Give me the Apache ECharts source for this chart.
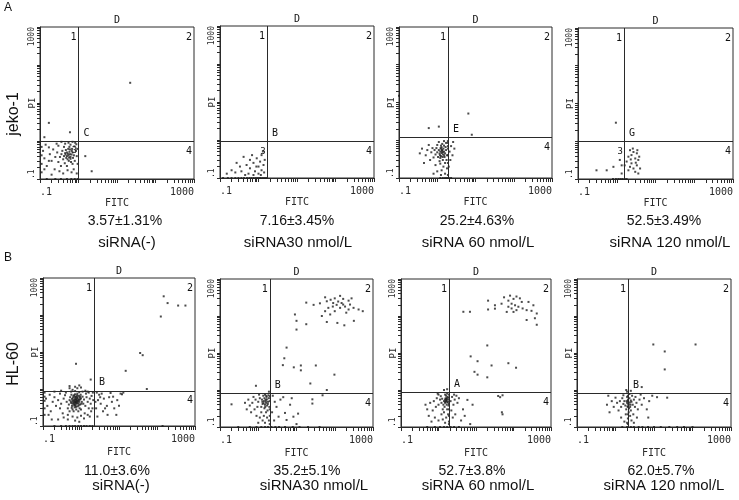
<!DOCTYPE html>
<html><head><meta charset="utf-8">
<script src="https://cdn.jsdelivr.net/npm/echarts@6/dist/echarts.min.js"></script>
<style>html,body{margin:0;padding:0;background:#fff}#c{width:739px;height:500px}</style>
</head><body><div id="c"></div>
<script>
// ---------- DATA ----------
const cellLines = ['jeko-1', 'HL-60'];
const rowLetters = ['A', 'B'];
const conditions = ['siRNA(-)', 'siRNA30 nmol/L', 'siRNA 60 nmol/L', 'siRNA 120 nmol/L'];
const percents = ['3.57±1.31%', '7.16±3.45%', '25.2±4.63%', '52.5±3.49%',
                  '11.0±3.6%', '35.2±5.1%', '52.7±3.8%', '62.0±5.7%'];
const gateX = [1.0, 1.66, 1.9, 1.55, 2.2, 2.0, 1.9, 2.1];   // FITC gate
const gateY = [1.0, 0.93, 1.2, 1.0, 0.89, 0.83, 0.85, 0.83]; // PI gate
const gateLetters = ['C', 'B', 'E', 'G', 'B', 'B', 'A', 'B'];
const showThree = [true, true, false, true, false, false, false, false];
const tickValues = [0.1, 1000];
const tickLabels = ['.1', '1000'];
const xName = 'FITC', yName = 'PI';

const jekoCtrl = [
[0.5,0.4],[0.55,0.42],[0.48,0.36],[0.6,0.45],[0.45,0.48],[0.52,0.33],[0.62,0.38],[0.58,0.52],[0.42,0.4],[0.66,0.44],
[0.5,0.5],[0.56,0.3],[0.4,0.33],[0.7,0.5],[0.47,0.58],[0.64,0.28],[0.36,0.45],[0.54,0.62],[0.72,0.36],[0.44,0.26],
[0.6,0.6],[0.33,0.38],[0.68,0.62],[0.38,0.55],[0.76,0.42],[0.3,0.28],[0.5,0.22],[0.8,0.3],[0.28,0.5],[0.58,0.7],
[0.42,0.7],[0.85,0.55],[0.25,0.38],[0.7,0.25],[0.35,0.22],[0.9,0.4],[0.22,0.6],[0.62,0.8],[0.3,0.75],[0.78,0.72],
[0.2,0.3],[0.45,0.85],[0.88,0.82],[0.18,0.45],[0.52,0.17],[0.75,0.18],[0.32,0.16],[0.15,0.22],[0.17,0.68],[0.93,0.62],
[0.24,0.18],[0.66,0.15],[0.4,0.14],[0.13,0.35],[0.95,0.25],[0.12,0.55],[0.27,0.85],[0.55,0.9],[0.82,0.9],[0.2,0.13],
[0.14,0.8],[0.9,0.14],[0.36,0.95],[0.7,0.95],[0.11,0.15],[0.11,0.25],[0.11,0.42],[0.11,0.7],[0.15,0.1],[0.25,0.1],
[0.35,0.1],[0.5,0.1],[0.65,0.1],[0.8,0.1],[0.95,0.1],[0.62,0.34],[0.53,0.46],[0.46,0.44],[0.57,0.37],[0.67,0.55],
[0.17,0.3],[0.13,0.18],[0.17,3.0],[0.6,1.7],[22,34],[1.5,0.4],[2.2,0.16],[0.13,1.26]
];
const jeko30 = [
[0.41,0.36],[0.6,0.3],[0.27,0.25],[0.9,0.33],[1.2,0.4],[0.33,0.2],[0.49,0.22],[0.74,0.25],[1.1,0.27],[0.2,0.16],
[0.36,0.15],[0.6,0.18],[1.0,0.2],[1.35,0.22],[0.15,0.13],[0.25,0.14],[0.55,0.13],[0.81,0.15],[1.2,0.16],[0.45,0.12],
[0.74,0.12],[1.0,0.13],[1.3,0.5],[1.45,0.3],[1.15,0.12],[0.88,0.2],[1.4,0.14],[0.68,0.4],
[0.12,0.1],[0.16,0.1],[0.2,0.1],[0.25,0.1],[0.3,0.1],[0.36,0.1],[0.42,0.1],[0.5,0.1],[0.58,0.1],[0.66,0.1],
[0.75,0.1],[0.85,0.1],[0.95,0.1],[1.05,0.1],[1.15,0.1],[1.3,0.1],[1.45,0.1],[1.6,0.1]
];
const jeko60 = [
[1.3,0.46],[1.2,0.5],[1.4,0.42],[1.35,0.55],[1.25,0.38],[1.5,0.5],[1.15,0.44],[1.45,0.6],[1.1,0.55],[1.6,0.45],
[1.3,0.65],[1.2,0.34],[1.55,0.36],[1.0,0.48],[1.7,0.55],[1.4,0.3],[0.95,0.62],[1.25,0.72],[1.8,0.4],[1.05,0.36],
[1.5,0.72],[0.9,0.42],[1.65,0.66],[1.15,0.28],[0.85,0.55],[1.75,0.3],[1.35,0.8],[0.8,0.35],[1.9,0.6],[1.0,0.75],
[1.2,0.24],[1.6,0.25],[0.7,0.48],[2.1,0.5],[0.75,0.62],[1.45,0.2],[0.65,0.3],[2.3,0.7],[1.1,0.9],[1.7,0.85],
[0.55,0.55],[2.5,0.4],[0.9,0.22],[1.3,0.16],[0.5,0.4],[2.2,0.3],[1.8,0.18],[0.6,0.75],[1.5,0.95],[2.8,0.6],
[0.45,0.25],[1.0,0.15],[2.0,0.2],[0.4,0.6],[1.25,0.12],[0.8,0.13],[1.6,0.13],[1.9,0.85],[2.6,0.9],[0.35,0.45],
[1.4,0.48],[1.28,0.58],[1.18,0.4],[1.52,0.4],[1.38,0.36],[1.22,0.62],[1.32,0.52],
[1.9,0.12],[1.9,0.25],[1.9,0.4],[1.9,0.7],[1.9,0.95],
[1.2,0.1],[1.4,0.1],[1.6,0.1],[1.8,0.1],[2.0,0.1],[2.3,0.1],
[0.6,2.1],[1.1,2.3],[6.5,5.1],[8,1.4],[0.1,15]
];
const jeko120 = [
[2.2,0.58],[2.7,0.52],[2.4,0.43],[3.3,0.48],[2.0,0.39],[3.0,0.35],[3.6,0.32],[1.8,0.29],[2.4,0.26],[3.3,0.23],
[2.2,0.21],[4.0,0.19],[2.0,0.17],[3.0,0.155],[3.6,0.14],[1.6,0.23],[2.7,0.19],[2.3,0.33],[3.1,0.27],[3.8,0.39],
[2.6,0.64],[3.4,0.58],[0.3,0.17],[0.82,0.21],[1.34,0.23],[0.95,3.1],[1.34,0.14],[1.2,0.32],[0.55,0.17],
[0.8,0.1],[0.95,0.1],[1.1,0.1],[1.25,0.1],[1.4,0.1],[1.6,0.1],[1.8,0.1]
];
const hlCtrl = [
[0.7,0.45],[0.75,0.5],[0.65,0.4],[0.8,0.42],[0.7,0.55],[0.6,0.48],[0.85,0.52],[0.72,0.36],[0.9,0.45],[0.62,0.58],
[0.78,0.62],[0.55,0.42],[0.95,0.38],[0.68,0.32],[0.82,0.34],[0.58,0.35],[1.0,0.55],[0.5,0.5],[0.88,0.65],[0.66,0.68],
[1.05,0.45],[0.52,0.6],[0.75,0.28],[0.92,0.3],[0.6,0.28],[1.1,0.62],[0.48,0.38],[0.7,0.72],[0.98,0.7],[0.56,0.7],
[1.15,0.4],[0.45,0.3],[0.85,0.25],[0.64,0.25],[1.2,0.52],[0.42,0.45],[0.8,0.75],[0.5,0.25],[1.0,0.28],[0.74,0.44],
[0.68,0.5],[0.8,0.48],[0.62,0.44],[0.76,0.4],[0.72,0.6],[0.86,0.4],[0.58,0.54],[0.92,0.58],[0.66,0.36],[0.78,0.55],
[0.71,0.42],[0.77,0.46],[0.69,0.38],[0.83,0.46],[0.73,0.52],[0.64,0.5],[0.81,0.58],[0.67,0.45],[0.88,0.5],[0.6,0.4],
[0.74,0.33],[0.94,0.52],[0.54,0.46],[0.79,0.68],[0.63,0.64],[1.02,0.4],[0.57,0.31],[0.87,0.36],[0.7,0.62],[0.96,0.62],
[0.3,0.4],[0.35,0.55],[0.28,0.3],[0.38,0.68],[0.25,0.5],[0.33,0.22],[0.4,0.8],[0.22,0.35],[0.45,0.2],[0.2,0.6],
[1.3,0.35],[1.4,0.6],[1.5,0.45],[1.6,0.3],[1.35,0.75],[1.7,0.55],[1.8,0.4],[1.25,0.22],[1.9,0.65],[2.0,0.3],
[0.55,0.85],[0.7,0.88],[0.9,0.82],[1.1,0.85],[0.6,0.95],[1.3,0.9],[0.8,1.05],[1.0,1.1],[0.5,1.05],[1.5,0.85],
[0.6,0.18],[0.8,0.17],[1.0,0.19],[0.45,0.15],[1.2,0.16],[0.7,0.14],[0.9,0.13],[1.5,0.2],[0.35,0.17],[1.7,0.18],
[0.16,0.25],[0.18,0.45],[0.15,0.7],[0.13,0.35],[0.17,0.15],[0.12,0.55],[0.14,0.2],[0.2,0.85],[0.25,0.15],[0.28,0.75],
[0.11,0.3],[0.11,0.48],[0.11,0.62],[0.11,0.8],[0.11,0.2],[1.6,0.8],[2.1,0.5],[1.85,0.25],[2.05,0.8],[0.3,0.9],
[0.2,0.1],[0.3,0.1],[0.4,0.1],[0.5,0.1],[0.6,0.1],[0.7,0.1],[0.85,0.1],[1.0,0.1],[1.2,0.1],[1.4,0.1],[1.7,0.1],[2.0,0.1],
[0.5,1.2],[0.9,1.25],[0.7,1.15],[1.8,1.8],
[2.6,0.8],[3.0,0.7],[3.5,0.75],[2.8,0.5],[3.3,0.4],[4.0,0.55],[2.5,0.3],[3.8,0.25],[4.8,0.35],[5.5,0.6],
[6.5,0.45],[5.0,0.2],[2.7,0.18],[7.5,0.3],[9,0.5],[11,0.75],[13,0.8],[12,0.72],[8.5,0.2],[6,0.78],
[3.2,0.6],[4.3,0.3],[10,0.35],[2.4,0.45],[7,0.62],
[150,320],[190,210],[360,180],[560,180],[126,91],[36,9.4],[42,8.2],[15,3.1],[54,1.0],[0.74,4.8],[140,0.1]
];
const hl30 = [
[1.5,0.4],[1.6,0.45],[1.4,0.5],[1.7,0.38],[1.3,0.42],[1.55,0.55],[1.8,0.48],[1.45,0.32],[1.25,0.55],[1.9,0.6],
[1.65,0.65],[1.2,0.35],[1.75,0.28],[1.35,0.7],[1.0,0.48],[1.85,0.72],[1.1,0.6],[1.6,0.25],[0.95,0.35],[1.5,0.75],
[1.2,0.25],[0.85,0.55],[1.95,0.35],[1.05,0.75],[0.8,0.3],[1.4,0.2],[0.7,0.45],[1.7,0.18],[0.75,0.65],[1.1,0.18],
[0.6,0.38],[1.3,0.15],[0.65,0.25],[0.9,0.2],[0.55,0.55],[1.9,0.15],[0.5,0.3],[1.5,0.13],[0.45,0.45],[1.0,0.13],
[1.45,0.6],[1.58,0.5],[1.38,0.44],[1.68,0.56],[1.28,0.48],[1.78,0.42],[1.52,0.35],[1.62,0.7],
[2.0,0.12],[2.0,0.2],[2.0,0.3],[2.0,0.5],[2.0,0.68],[0.2,0.41],[0.87,1.3],[1.9,0.9],
[2.7,0.48],[4.5,0.64],[3.4,0.19],[6.8,0.4],[5,0.24],[11,0.23],[8.3,0.19],[10,0.12],[5.5,0.155],[2.4,0.7],
[3,0.35],[2.3,0.25],[3.8,0.55],[2.6,0.15],[7.5,0.6],[48,0.72],[26,0.56],[26,0.43],
[0.3,0.1],[0.6,0.1],[0.9,0.1],[1.2,0.1],[1.5,0.1],[1.8,0.1],[2.2,0.1],[2.8,0.1],[3.5,0.1],[5,0.1],[8,0.1],[12,0.1],[20,0.1],[40,0.1],
[9.1,110],[10,74],[10,43],[18,60],[5.5,14],[4.8,7.2],[4.4,4.7],[8.5,4.1],[13,4.6],[13,3.4],[32,4.6],[98,2.6],[23,1.5],[62,1.0],
[18,230],[28,200],[41,220],[56,320],[62,250],[78,275],[100,300],[138,350],[166,290],[230,260],
[275,300],[89,180],[112,200],[138,166],[186,180],[230,150],[310,166],[420,150],[540,135],[56,135],
[76,110],[100,135],[200,123],[62,69],[117,65],[178,56],[316,74],[46,100],[151,224],[123,246],
[166,204],[251,204],[91,224],[68,166]
];
const hl60 = [
[1.6,0.5],[1.5,0.45],[1.7,0.55],[1.4,0.5],[1.65,0.4],[1.55,0.6],[1.8,0.48],[1.35,0.4],[1.75,0.65],[1.45,0.35],
[1.25,0.58],[1.85,0.38],[1.6,0.7],[1.2,0.45],[1.9,0.55],[1.3,0.3],[1.5,0.75],[1.1,0.55],[1.7,0.3],[1.0,0.4],
[2.1,0.5],[1.15,0.68],[1.4,0.25],[0.9,0.6],[2.3,0.65],[0.85,0.35],[1.8,0.22],[1.2,0.22],[2.5,0.4],[0.75,0.5],
[1.0,0.75],[1.6,0.18],[0.7,0.28],[2.2,0.28],[0.6,0.45],[1.3,0.16],[2.7,0.55],[0.55,0.2],[1.0,0.15],[0.8,0.18],
[1.9,0.14],[0.5,0.3],[2.4,0.18],[1.5,0.13],[0.65,0.14],[3.0,0.7],[1.7,0.8],[0.95,0.8],
[1.62,0.52],[1.52,0.48],[1.72,0.46],[1.58,0.56],[1.48,0.55],[1.68,0.6],
[1.9,0.12],[1.9,0.2],[1.9,0.3],[1.9,0.42],[1.9,0.62],[1.9,0.75],[1.4,1.0],[1.7,1.05],[0.45,0.4],
[5.9,0.54],[8.1,0.4],[44,0.64],[51,0.72],[51,0.22],[39,0.69],[49,0.25],[3.5,0.6],[4.5,0.3],[2.8,0.22],
[3.2,0.45],[5,0.2],[2.6,0.75],[4,0.15],[7,0.12],
[0.5,0.1],[0.8,0.1],[1.1,0.1],[1.4,0.1],[1.7,0.1],[2.1,0.1],[2.6,0.1],[3.5,0.1],
[20,16],[7.2,8.1],[11,6],[26,4.6],[73,5.3],[117,4],[9.1,3.1],[11,2.6],[20,2.2],
[4.6,130],[6.9,130],[21,260],[21,150],[32,195],[32,158],[48,215],[56,320],[73,260],[81,355],
[100,290],[120,336],[148,300],[89,215],[110,195],[135,178],[175,160],[224,144],[302,138],[417,117],
[372,87],[417,58],[224,78],[120,144],[66,129],[100,129],[73,178],[166,240],[251,240],[339,195],[89,160]
];
const hl120 = [
[2.2,0.4],[2.0,0.45],[2.4,0.35],[2.1,0.55],[2.6,0.48],[1.8,0.38],[2.3,0.6],[1.9,0.3],[2.8,0.4],[1.7,0.5],
[2.5,0.28],[2.0,0.65],[3.0,0.55],[1.6,0.42],[2.2,0.25],[3.2,0.35],[1.5,0.6],[2.7,0.7],[1.85,0.22],[3.5,0.45],
[1.4,0.35],[2.4,0.2],[3.3,0.65],[1.3,0.5],[2.9,0.22],[1.6,0.72],[3.8,0.3],[1.2,0.28],[2.1,0.17],[4.2,0.55],
[1.1,0.45],[2.6,0.15],[1.0,0.62],[3.6,0.18],[1.4,0.18],[4.8,0.4],[0.9,0.35],[5.5,0.6],[0.8,0.5],[2.0,0.13],
[6.5,0.3],[0.7,0.25],[3.0,0.13],[7.5,0.5],[0.6,0.4],[1.7,0.14],[9,0.7],[0.65,0.7],[4.5,0.75],[2.3,0.78],
[2.15,0.42],[2.35,0.46],[2.05,0.36],[2.5,0.52],[1.95,0.5],[2.25,0.32],[2.45,0.4],
[2.1,0.12],[2.1,0.22],[2.1,0.35],[2.1,0.5],[2.1,0.7],[2.0,0.9],[2.5,0.95],[1.9,1.0],
[12,0.64],[22,0.62],[7.1,0.18],[4.8,1.2],[9.6,17],[19,11],[120,17],[19,3.6],
[1.5,0.1],[2.0,0.1],[2.5,0.1],[3,0.1],[4,0.1],[5,0.1],[7,0.1],[10,0.1],[15,0.1],[25,0.1],[40,0.1],[60,0.1],[100,0.1]
];
const panelData = [jekoCtrl, jeko30, jeko60, jeko120, hlCtrl, hl30, hl60, hl120];

// ---------- LAYOUT ----------
const boxes = [[40,27,154,152],[220,26,154,152],[399,27,153,151],[578,28,155,151],
               [43,278,152,148],[220,279,153,148],[401,279,150,148],[577,279,154,148]];
const pctPos = [[125,221],[297,221],[477,221],[664,221],[117,471],[307,471],[472,471],[661,471]];
const condPos = [[127,243],[298,243],[478,243],[670,243],[121,486],[314,486],[478,486],[664,486]];
const MONO = 'DejaVu Sans Mono';
const SANS = 'Liberation Sans, Arial, sans-serif';
const INK = '#2a2a2a';

const minorTicks = [];
[0.1, 1, 10, 100].forEach(d => { for (let k = 1; k <= 9; k++) minorTicks.push(k * d); });
minorTicks.push(1000);

function fmt(v) {
  const i = tickValues.findIndex(t => Math.abs(Math.log10(t) - Math.log10(v)) < 1e-6);
  return i >= 0 ? tickLabels[i] : '';
}

const grid = [], xAxis = [], yAxis = [], series = [];
boxes.forEach((b, i) => {
  grid.push({left: b[0], top: b[1], width: b[2], height: b[3], show: true,
             borderColor: INK, borderWidth: 1, backgroundColor: 'transparent', containLabel: false});
  xAxis.push({type: 'log', logBase: 10, gridIndex: i, min: 0.1, max: 1000,
    name: xName, nameLocation: 'middle', nameGap: i < 4 ? 19 : 21, nameMoveOverlap: false,
    nameTextStyle: {fontFamily: MONO, fontSize: 10, color: INK},
    axisLine: {show: true, lineStyle: {color: INK, width: 1}},
    axisTick: {show: true, customValues: minorTicks, length: 4, lineStyle: {color: INK}},
    axisLabel: {customValues: tickValues, formatter: fmt, fontFamily: MONO, fontSize: 10, color: INK,
                margin: 8, alignMinLabel: 'left', alignMaxLabel: 'right'},
    splitLine: {show: false}});
  yAxis.push({type: 'log', logBase: 10, gridIndex: i, min: 0.1, max: 1000,
    name: yName, nameLocation: 'middle', nameGap: 3, nameRotate: 90, nameMoveOverlap: false,
    nameTextStyle: {fontFamily: MONO, fontSize: 9, color: INK},
    axisLine: {show: true, lineStyle: {color: INK, width: 1}},
    axisTick: {show: true, customValues: minorTicks, length: 3, lineStyle: {color: INK}},
    axisLabel: {customValues: tickValues, formatter: fmt, fontFamily: MONO, fontSize: 8, color: INK,
                rotate: 90, margin: 4, alignMinLabel: 'left', alignMaxLabel: 'right'},
    splitLine: {show: false}});
  series.push({type: 'scatter', xAxisIndex: i, yAxisIndex: i, data: panelData[i],
    symbol: 'rect', symbolSize: 2, itemStyle: {color: '#1e1e1e'}, silent: true, clip: false,
    markLine: {silent: true, symbol: 'none', animation: false, label: {show: false},
      lineStyle: {color: INK, width: 1, type: 'solid'},
      data: [{xAxis: gateX[i]}, {yAxis: gateY[i]}]}});
});

const chart = echarts.init(document.getElementById('c'));
chart.setOption({animation: false, backgroundColor: '#fff', grid, xAxis, yAxis, series});

// ---------- TEXT ANNOTATIONS ----------
const g = [];
function txt(x, y, s, font, size, extra) {
  g.push(Object.assign({type: 'text', x, y, silent: true,
    style: {text: s, fontFamily: font, fontSize: size, fill: '#111', align: 'center', verticalAlign: 'middle'}}, extra || {}));
}
rowLetters.forEach((r, k) => txt(8, k ? 258 : 8, r, SANS, 12));
cellLines.forEach((c, k) => txt(14, k ? 364 : 114, c, SANS, 16, {rotation: Math.PI / 2}));
boxes.forEach((b, i) => {
  const p = chart.convertToPixel({gridIndex: i}, [gateX[i], gateY[i]]);
  const right = b[0] + b[2], top = b[1];
  txt(b[0] + b[2] / 2, top - 7, 'D', MONO, 10);
  txt(p[0] - 5, top + 10, '1', MONO, 10);
  txt(right - 5, top + 10, '2', MONO, 10);
  txt(p[0] + 8, p[1] - 8, gateLetters[i], MONO, 10);
  txt(right - 5, p[1] + 10, '4', MONO, 10);
  if (showThree[i]) txt(p[0] - 4, p[1] + 10, '3', MONO, 9);
  txt(pctPos[i][0], pctPos[i][1], percents[i], SANS, 14);
  txt(condPos[i][0], condPos[i][1], conditions[i % 4], SANS, 15);
});
chart.setOption({graphic: g});
</script></body></html>
